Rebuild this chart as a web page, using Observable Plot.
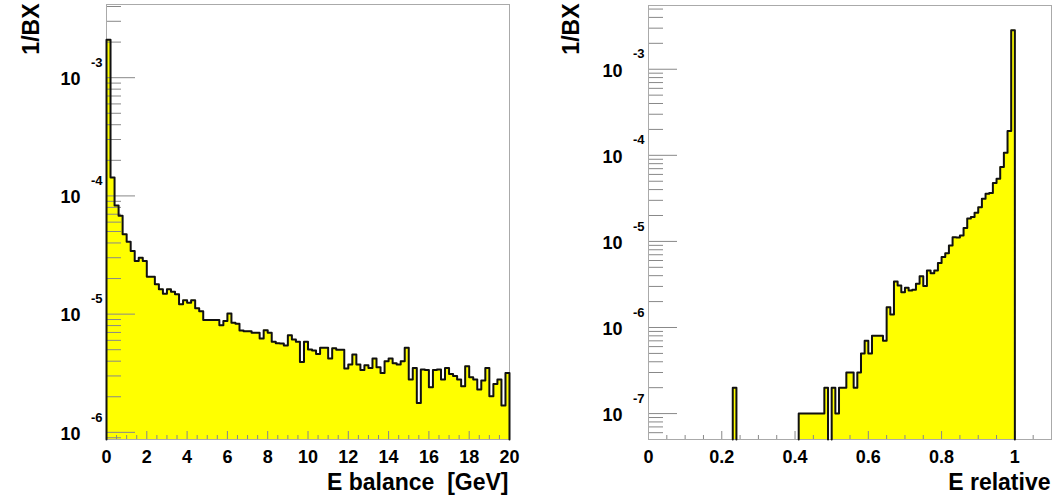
<!DOCTYPE html>
<html><head><meta charset="utf-8">
<script src="https://cdn.jsdelivr.net/npm/d3@7"></script>
<script src="https://cdn.jsdelivr.net/npm/@observablehq/plot@0.6"></script>
<style>
body{margin:0;background:#fff;}
#wrap{display:flex;width:1054px;height:498px;overflow:hidden;}
</style></head><body><div id="wrap"></div>
<script>
// ---- data ----
const eBalanceBinWidth = 0.2; // GeV
const eBalanceValues = [
  2.09e-3, 1.43e-4, 8.3e-5, 6.8e-5, 4.73e-5, 4.1e-5, 3.42e-5, 2.81e-5, 3.0e-5, 2.81e-5,
  2.07e-5, 2.07e-5, 1.79e-5, 1.62e-5, 1.49e-5, 1.62e-5, 1.55e-5, 1.47e-5, 1.21e-5, 1.31e-5,
  1.25e-5, 1.31e-5, 1.12e-5, 1.06e-5, 8.9e-6, 8.9e-6, 8.9e-6, 8.9e-6, 8.07e-6, 8.73e-6,
  1.01e-5, 8.44e-6, 8.28e-6, 7.27e-6, 7.18e-6, 7.18e-6, 6.95e-6, 6.95e-6, 6.22e-6, 7.31e-6,
  6.95e-6, 5.83e-6, 5.68e-6, 5.65e-6, 5.43e-6, 6.64e-6, 6.1e-6, 5.83e-6, 3.94e-6, 5.83e-6,
  5.02e-6, 4.92e-6, 4.61e-6, 5.19e-6, 5.19e-6, 4.21e-6, 5.15e-6, 4.99e-6, 4.99e-6, 3.47e-6,
  3.75e-6, 4.55e-6, 3.75e-6, 3.37e-6, 3.7e-6, 3.51e-6, 4.21e-6, 3.56e-6, 3.18e-6, 4.0e-6,
  4.21e-6, 3.85e-6, 3.75e-6, 4.0e-6, 5.19e-6, 2.8e-6, 3.51e-6, 1.77e-6, 3.4e-6, 3.37e-6,
  2.41e-6, 3.37e-6, 3.4e-6, 2.8e-6, 3.51e-6, 3.12e-6, 2.99e-6, 2.8e-6, 2.45e-6, 3.62e-6,
  2.92e-6, 2.8e-6, 2.3e-6, 2.74e-6, 3.51e-6, 2.02e-6, 2.57e-6, 2.8e-6, 1.69e-6, 3.18e-6
];
const eRelativeBinWidth = 0.01;
const eRelativeValues = [
  0,0,0,0,0,0,0,0,0,0,
  0,0,0,0,0,0,0,0,0,0,
  0,0,0,2e-7,0,0,0,0,0,0,
  0,0,0,0,0,0,0,0,0,0,
  0,1e-7,1e-7,1e-7,1e-7,1e-7,1e-7,1e-7,2e-7,0,
  2e-7,1e-7,2e-7,2e-7,3e-7,3e-7,2e-7,3e-7,5e-7,7e-7,
  5e-7,8e-7,8e-7,8e-7,7e-7,1.72e-6,1.42e-6,3.43e-6,3.08e-6,2.57e-6,
  2.89e-6,2.69e-6,2.75e-6,3.22e-6,3.95e-6,3.03e-6,4.6e-6,4.28e-6,4.6e-6,5.6e-6,
  6.58e-6,7.31e-6,8.98e-6,1.12e-5,1.11e-5,1.17e-5,1.43e-5,1.84e-5,1.92e-5,2.15e-5,
  2.5e-5,3.13e-5,3.58e-5,3.65e-5,4.76e-5,5.36e-5,7.3e-5,1.07e-4,1.92e-4,2.84e-3,
  0,0,0,0,0,0,0,0,0,0
];
const eBalanceXTicks = [0, 2, 4, 6, 8, 10, 12, 14, 16, 18, 20];
const eRelativeXTicks = [0, 0.2, 0.4, 0.6, 0.8, 1];
const leftDecades = [-6, -5, -4, -3];
const rightDecades = [-7, -6, -5, -4, -3];
const minorMultipliers = [2, 3, 4, 5, 6, 7, 8, 9];
const leftYDomain = [8.7e-7, 4.16e-3];
const rightYDomain = [5e-8, 5.5e-3];
const leftXDomain = [0, 20];
const rightXDomain = [0, 1.1];
const leftXLabel = "E balance  [GeV]";
const rightXLabel = "E relative";
const yLabel = "1/BX";

const FONT = "'Liberation Sans', Arial, Helvetica, sans-serif";
const H = 498;

// filled area points (zero bins sit on the floor of the log axis)
function areaPoints(values, width, ymin) {
  const pts = [{x: 0, y: ymin}];
  values.forEach((v, i) => {
    const y = v > 0 ? v : ymin;
    pts.push({x: i * width, y}, {x: (i + 1) * width, y});
  });
  pts.push({x: values.length * width, y: ymin});
  return pts;
}
// outline: one segment per run of non-empty bins, dropping to the floor at both ends
function outlineSegments(values, width, ymin) {
  const pts = [];
  let seg = -1;
  values.forEach((v, i) => {
    if (!(v > 0)) return;
    const prev = i > 0 ? values[i - 1] : 0;
    const next = i < values.length - 1 ? values[i + 1] : 0;
    if (!(prev > 0)) { seg++; pts.push({x: i * width, y: ymin, seg}); }
    pts.push({x: i * width, y: v, seg}, {x: (i + 1) * width, y: v, seg});
    if (!(next > 0)) pts.push({x: (i + 1) * width, y: ymin, seg});
  });
  return pts;
}

function panel(o) {
  const ymin = o.yDomain[0];
  const apts = areaPoints(o.values, o.binWidth, ymin);
  const lpts = outlineSegments(o.values, o.binWidth, ymin);
  const frameW = o.width - o.marginLeft - o.marginRight;
  const frameH = H - o.marginTop - o.marginBottom;
  const majorY = o.decades.map(d => Math.pow(10, d));
  const minorY = [];
  for (let d = o.decades[0] - 1; d <= o.decades[o.decades.length - 1]; d++) {
    for (const m of minorMultipliers) {
      const v = m * Math.pow(10, d);
      if (v >= o.yDomain[0] && v <= o.yDomain[1]) minorY.push(v);
    }
  }
  const nMinor = Math.round((o.xDomain[1] - o.xDomain[0]) / o.xMinorStep);
  const minorX = d3.range(nMinor + 1).map(i => o.xDomain[0] + i * o.xMinorStep)
    .filter(v => !o.xTicks.some(t => Math.abs(t - v) < 1e-9));
  return Plot.plot({
    width: o.width, height: H,
    marginLeft: o.marginLeft, marginRight: o.marginRight,
    marginTop: o.marginTop, marginBottom: o.marginBottom,
    style: {fontFamily: FONT, background: "white", color: "#000"},
    x: {domain: o.xDomain, axis: null},
    y: {type: "log", domain: o.yDomain, axis: null},
    marks: [
      Plot.areaY(apts, {x: "x", y1: ymin, y2: "y", fill: "#ffff00", curve: "linear"}),
      Plot.tickY(majorY, {y: d => d, stroke: "#888", insetRight: frameW - 29}),
      Plot.tickY(minorY, {y: d => d, stroke: "#888", insetRight: frameW - 15}),
      Plot.tickX(o.xTicks, {x: d => d, stroke: "#888", insetTop: frameH - 8}),
      Plot.tickX(minorX, {x: d => d, stroke: "#888", insetTop: frameH - 4}),
      Plot.frame({stroke: "#aaa"}),
      Plot.line(lpts, {x: "x", y: "y", z: "seg", stroke: "#111", strokeWidth: 2, curve: "linear"}),
      Plot.axisX(o.xTicks, {tickSize: 0, tickPadding: 11, fontSize: 18, fontWeight: "bold", label: null,
        tickFormat: d => String(d)}),
      Plot.text(majorY, {y: d => d, frameAnchor: "left", text: () => "10", textAnchor: "end",
        dx: -26, dy: 1.5, fontSize: 18, fontWeight: "bold"}),
      Plot.text(majorY, {y: d => d, frameAnchor: "left", text: d => String(Math.round(Math.log10(d))),
        textAnchor: "end", dx: -4, dy: -15, fontSize: 13, fontWeight: "bold"}),
      Plot.text([o.xLabel], {frameAnchor: "bottom-right", textAnchor: "end", lineAnchor: "bottom",
        dx: -1, dy: 50, fontSize: 23, fontWeight: "bold"}),
      Plot.text([yLabel], {frameAnchor: "top-left", rotate: -90, textAnchor: "end",
        dx: o.ylabelDx, dy: o.ylabelDy, fontSize: 23, fontWeight: "bold"})
    ]
  });
}

const left = panel({
  values: eBalanceValues, binWidth: eBalanceBinWidth, xDomain: leftXDomain, yDomain: leftYDomain,
  decades: leftDecades, xTicks: eBalanceXTicks, xMinorStep: 0.5, xLabel: leftXLabel,
  width: 527, marginLeft: 106, marginRight: 18, marginTop: 4, marginBottom: 59,
  ylabelDx: -83.5, ylabelDy: -1
});
const right = panel({
  values: eRelativeValues, binWidth: eRelativeBinWidth, xDomain: rightXDomain, yDomain: rightYDomain,
  decades: rightDecades, xTicks: eRelativeXTicks, xMinorStep: 0.05, xLabel: rightXLabel,
  width: 527, marginLeft: 121, marginRight: 3, marginTop: 5, marginBottom: 59,
  ylabelDx: -85.5, ylabelDy: -2
});
document.getElementById("wrap").append(left, right);
</script>
</body></html>
